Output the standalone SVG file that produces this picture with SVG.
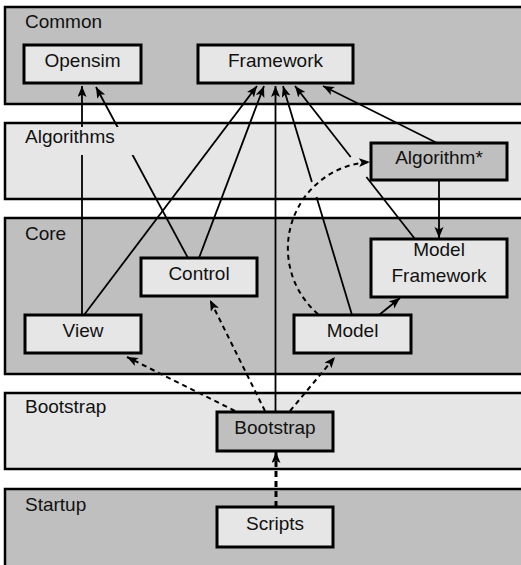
<svg xmlns="http://www.w3.org/2000/svg" width="521" height="565" viewBox="0 0 521 565">
  <defs>
    <style>
      text { font-family: "Liberation Sans", Arial, sans-serif; font-size: 19px; fill: #111; }
      .mid { text-anchor: middle; }
      .layer { stroke: #000; stroke-width: 2.5; }
      .dark { fill: #bfbfbf; }
      .light { fill: #e6e6e6; }
      .node { stroke: #000; stroke-width: 3; }
      .link { fill: none; stroke: #000; stroke-width: 1.8; }
      .dash { fill: none; stroke: #000; stroke-width: 2; stroke-dasharray: 5 4; }
      .dash-thick { fill: none; stroke: #000; stroke-width: 3; stroke-dasharray: 6 4; }
    </style>
    <marker id="arrow" markerUnits="userSpaceOnUse" markerWidth="12" markerHeight="10" refX="11" refY="4.5" orient="auto">
      <path d="M0,0 L11,4.5 L0,9 L2.5,4.5 z" fill="#000"/>
    </marker>
  </defs>

  <rect width="521" height="565" fill="#fff"/>

  <!-- layer bands -->
  <g id="layers">
    <rect class="layer dark" x="5" y="7" width="530" height="97"/>
    <text x="25" y="28">Common</text>
    <rect class="layer light" x="5" y="123" width="530" height="76"/>
    <rect class="layer dark" x="5" y="218" width="530" height="156"/>
    <text x="25" y="240">Core</text>
    <rect class="layer light" x="5" y="393" width="530" height="76"/>
    <text x="25" y="413">Bootstrap</text>
    <rect class="layer dark" x="5" y="489" width="530" height="90"/>
    <text x="25" y="511">Startup</text>
  </g>

  <!-- dependencies -->
  <g id="connectors">
    <path class="link" d="M82,315 L82,86" marker-end="url(#arrow)"/>
    <path class="link" d="M188,258 L96,87" marker-end="url(#arrow)"/>
    <path class="link" d="M84,315 L257,86" marker-end="url(#arrow)"/>
    <path class="link" d="M199,258 L264,86" marker-end="url(#arrow)"/>
    <path class="link" d="M275.5,412 L275.5,86" marker-end="url(#arrow)"/>
    <path class="link" d="M352,315 L316.5,197"/>
    <path class="link" d="M311.9,182 L283,86" marker-end="url(#arrow)"/>
    <path class="link" d="M415,239 L366.4,177"/>
    <path class="link" d="M350.7,157 L295,86" marker-end="url(#arrow)"/>
    <path class="link" d="M437,143 L323,86" marker-end="url(#arrow)"/>
    <path class="link" d="M439,180 L439,238" marker-end="url(#arrow)"/>
    <path class="link" d="M379,315 L400,298" marker-end="url(#arrow)"/>
    <path class="dash" d="M318,314 A86.5,86.5 0 0 1 370,162" marker-end="url(#arrow)"/>
    <path class="dash" d="M235,411 L127,357" marker-end="url(#arrow)"/>
    <path class="dash" d="M265,411 L210,300" marker-end="url(#arrow)"/>
    <path class="dash" d="M290,411 L335,357" marker-end="url(#arrow)"/>
    <path class="dash-thick" d="M276,507 L276,452" marker-end="url(#arrow)"/>
  </g>

  <!-- Algorithms band label, on a backing that hides the lines behind it -->
  <g id="algorithms-label">
    <rect class="light" x="20" y="127" width="122" height="28"/>
    <text x="25" y="143">Algorithms</text>
  </g>

  <g id="opensim">
    <rect class="node light" x="24" y="45" width="117" height="38"/>
    <text class="mid" x="82.5" y="67">Opensim</text>
  </g>
  <g id="framework">
    <rect class="node light" x="198" y="45" width="155" height="38"/>
    <text class="mid" x="275.5" y="67">Framework</text>
  </g>
  <g id="algorithm">
    <rect class="node dark" x="371" y="143" width="136" height="37"/>
    <text class="mid" x="439" y="164">Algorithm*</text>
  </g>
  <g id="control">
    <rect class="node light" x="141" y="258" width="116" height="38"/>
    <text class="mid" x="199" y="280">Control</text>
  </g>
  <g id="model-framework">
    <rect class="node light" x="371" y="239" width="136" height="58"/>
    <text class="mid" x="439" y="256">Model</text>
    <text class="mid" x="439" y="282">Framework</text>
  </g>
  <g id="view">
    <rect class="node light" x="25" y="315" width="116" height="38"/>
    <text class="mid" x="83" y="337">View</text>
  </g>
  <g id="model">
    <rect class="node light" x="294" y="315" width="117" height="38"/>
    <text class="mid" x="352.5" y="337">Model</text>
  </g>
  <g id="bootstrap">
    <rect class="node dark" x="217" y="412" width="116" height="39"/>
    <text class="mid" x="275" y="434">Bootstrap</text>
  </g>
  <g id="scripts">
    <rect class="node light" x="217" y="507" width="116" height="40"/>
    <text class="mid" x="275" y="530">Scripts</text>
  </g>
</svg>
